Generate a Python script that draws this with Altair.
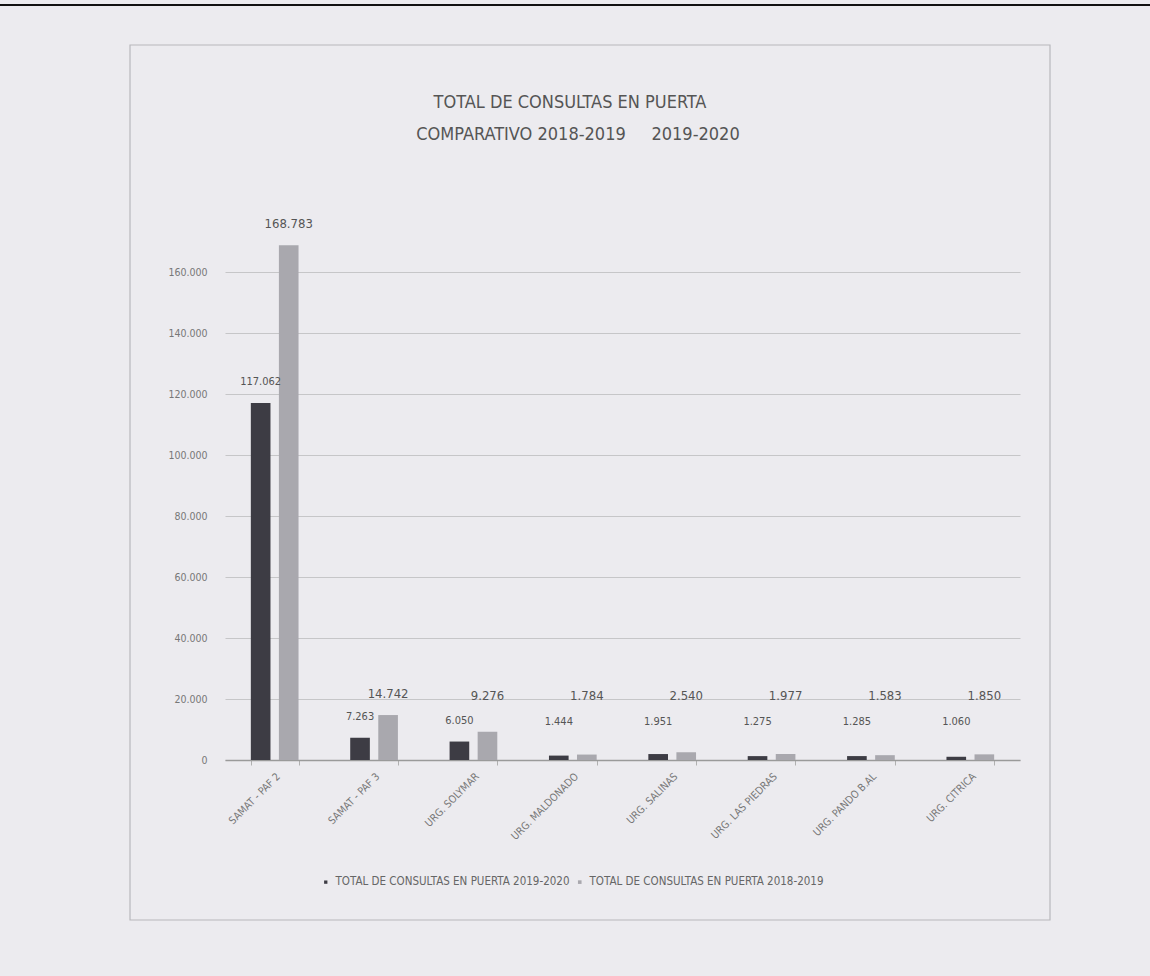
import altair as alt
import pandas as pd

categories = ["SAMAT - PAF 2", "SAMAT - PAF 3", "URG. SOLYMAR", "URG. MALDONADO",
              "URG. SALINAS", "URG. LAS PIEDRAS", "URG. PANDO B.AL", "URG. CITRICA"]
series_names = ["TOTAL DE CONSULTAS EN PUERTA 2019-2020",
                "TOTAL DE CONSULTAS EN PUERTA 2018-2019"]
values_2019_2020 = [117062, 7263, 6050, 1444, 1951, 1275, 1285, 1060]
values_2018_2019 = [168783, 14742, 9276, 1784, 2540, 1977, 1583, 1850]
y_ticks = [0, 20000, 40000, 60000, 80000, 100000, 120000, 140000, 160000]
title_lines = ["TOTAL DE CONSULTAS EN PUERTA",
               "COMPARATIVO 2018-2019\u00a0\u00a0\u00a0\u00a0\u00a02019-2020"]

rows = []
for c, a, b in zip(categories, values_2019_2020, values_2018_2019):
    rows.append({"cat": c, "series": series_names[0], "value": a})
    rows.append({"cat": c, "series": series_names[1], "value": b})
df = pd.DataFrame(rows)

FONT = "Liberation Sans Narrow, DejaVu Sans Condensed, sans-serif"
BG = "#ecebef"
W, H = 795, 549

x_enc = alt.X("cat:N", sort=categories, title=None,
              scale=alt.Scale(paddingInner=0.52, paddingOuter=0.26),
              axis=alt.Axis(labelAngle=-45, labelAlign="right", labelBaseline="top",
                            labelFontSize=10.5, labelColor="#777", labelFont=FONT,
                            domainColor="#9a9a9a", domainWidth=1.5, tickColor="#b0b0b0",
                            tickBand="extent", tickSize=5, labelPadding=6, grid=False))
xoff = alt.XOffset("series:N", sort=series_names, scale=alt.Scale(paddingInner=0.3))
y_scale = alt.Scale(domain=[0, 180000], nice=False)

base = alt.Chart(df)

bars = base.mark_bar().encode(
    x=x_enc,
    xOffset=xoff,
    y=alt.Y("value:Q", scale=y_scale, title=None,
            axis=alt.Axis(values=y_ticks, labelExpr="replace(format(datum.value, ','), ',', '.')",
                          labelFontSize=10.5, labelColor="#777", labelFont=FONT,
                          domain=False, ticks=False, gridColor="#c6c6c8", gridWidth=1.2,
                          labelPadding=18)),
    color=alt.Color("series:N", sort=series_names,
                    scale=alt.Scale(domain=series_names, range=["#3d3c44", "#a9a8ae"]),
                    legend=alt.Legend(orient="none", legendX=95, legendY=665,
                                      direction="horizontal", title=None,
                                      symbolType="square", symbolSize=65,
                                      labelFontSize=11.5, labelColor="#666", labelFont=FONT,
                                      columnPadding=4, labelLimit=400)),
)

labels = base.transform_calculate(
    label_y=f"datum.series == '{series_names[0]}' ? max(datum.value, 5500) : max(datum.value, 14000)",
    label="replace(format(datum.value, ','), ',', '.')",
).mark_text(baseline="middle", dy=-21, font=FONT, color="#555").encode(
    x=alt.X("cat:N", sort=categories),
    xOffset=xoff,
    y=alt.Y("label_y:Q", scale=y_scale),
    text="label:N",
    size=alt.Size("series:N", scale=alt.Scale(domain=series_names, range=[11, 13]), legend=None),
)

one = pd.DataFrame({"k": [0]})
title1 = alt.Chart(one).mark_text(
    font=FONT, fontSize=18, color="#555", align="center", baseline="middle"
).encode(x=alt.value(345), y=alt.value(-108), text=alt.value(title_lines[0]))
title2 = alt.Chart(one).mark_text(
    font=FONT, fontSize=18, color="#555", align="center", baseline="middle"
).encode(x=alt.value(353), y=alt.value(-76), text=alt.value(title_lines[1]))

frame = alt.Chart(one).mark_rect(
    fill=None, stroke="#b8b8bc", strokeWidth=1.2
).encode(x=alt.value(-95), x2=alt.value(825), y=alt.value(-166), y2=alt.value(709))

top_edge = alt.Chart(one).mark_rule(
    color="#111", strokeWidth=2
).encode(x=alt.value(-225), x2=alt.value(925), y=alt.value(-206))

chart = alt.layer(frame, top_edge, bars, labels, title1, title2).properties(
    width=W, height=H,
    autosize=alt.AutoSizeParams(type="none"),
    padding={"left": 225, "top": 211, "right": 130, "bottom": 216},
    background=BG,
).configure_view(stroke=None)

chart.save("out.html", embed_options={"renderer": "svg", "actions": False})
